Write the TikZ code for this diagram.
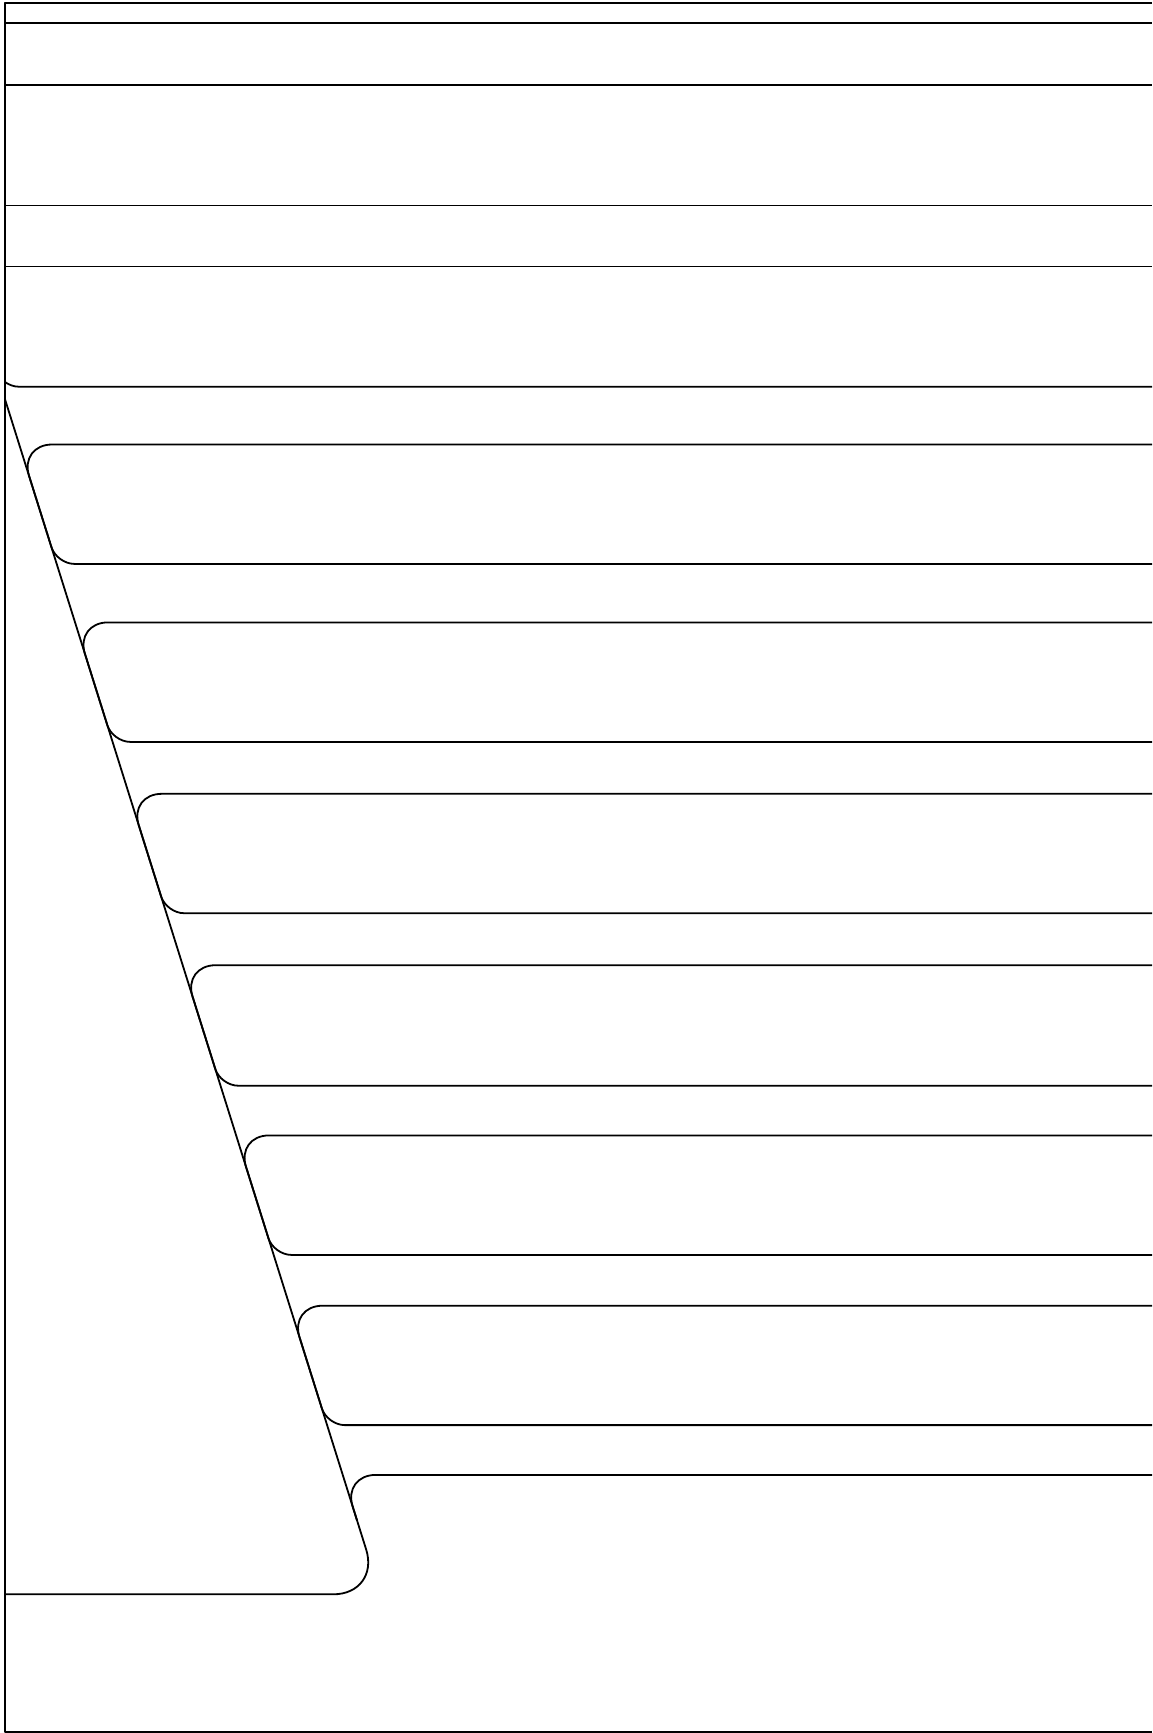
\documentclass[tikz,border=0pt]{standalone}
\begin{document}
\begin{tikzpicture}[x=0.5pt,y=-0.5pt,
  ln/.style={line width=0.9pt, black, line join=round},
  topcorner/.style={ln, rounded corners=16.5pt},
  botcorner/.style={ln, rounded corners=8.8pt}]
\useasboundingbox (0,0) rectangle (1152,1733);
\def\dg#1{4.7+0.314*(#1-398.3)}
\begin{scope}
  \clip (4.7,0) rectangle (1152,1733);
  % upper rows
  \foreach \y in {3.3,23.2,85.1,205.6,266.5}
    \draw[ln] (0,\y) -- (1152,\y);
  \draw[botcorner] ({\dg{330}},330) -- ({\dg{386.7}},386.7) -- (1152,386.7);
  % stepped boxes
  \foreach \t/\b in {444.5/563.9, 622.4/741.9, 793.8/913.2, 965.2/1085.7, 1135.4/1254.9, 1305.7/1425.1}{
    \pgfmathsetmacro\m{(\t+\b)/2}
    \draw[topcorner] ({\dg{\m}},\m) -- ({\dg{\t}},\t) -- (1152,\t);
    \draw[botcorner] ({\dg{\m}},\m) -- ({\dg{\b}},\b) -- (1152,\b);
  }
  \draw[topcorner] ({\dg{1520}},1520) -- ({\dg{1474.9}},1474.9) -- (1152,1474.9);
  % diagonal panel
  \draw[ln, rounded corners=23.5pt] (4.7,398.3) -- ({\dg{1594.3}},1594.3) -- (4.7,1594.3);
\end{scope}
% frame
\draw[ln] (1152,3.3) -- (4.7,3.3) -- (4.7,1731.7) -- (1152,1731.7);
\end{tikzpicture}
\end{document}
